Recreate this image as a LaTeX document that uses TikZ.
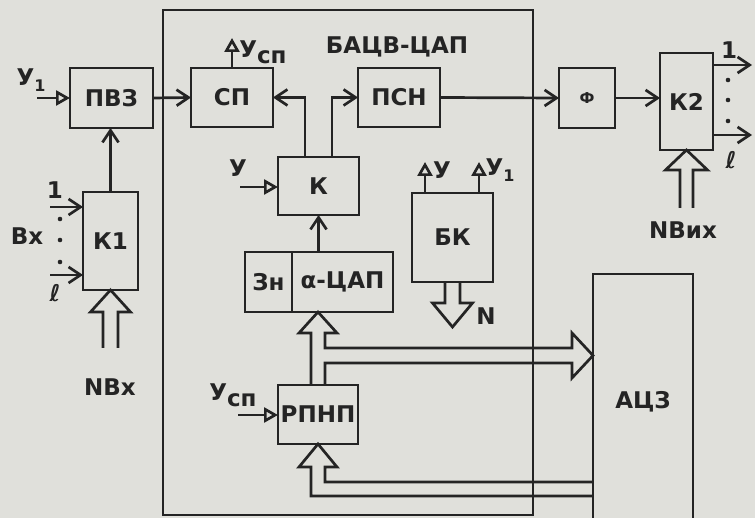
\documentclass[tikz,border=0pt]{standalone}
\usepackage{fontspec}
\setmainfont{DejaVu Sans}
\usetikzlibrary{arrows.meta,positioning,calc}
\definecolor{paper}{RGB}{224,224,219}
\definecolor{ink}{RGB}{36,36,36}
\newcommand\lowsub[1]{\raisebox{-0.45ex}{#1}}
\newcommand\smallsub[1]{\raisebox{-0.5ex}{\fontsize{16}{16}\selectfont #1}}

\begin{document}
\begin{tikzpicture}[
      x=1pt, y=-1pt, color=ink, line width=2.7pt,
      font=\fontsize{23}{27}\selectfont\bfseries,
      box/.style={draw, inner sep=0pt, outer sep=0pt, align=center},
      lbl/.style={inner sep=0pt},
      arr/.style={-{Straight Barb[length=12pt, width=16pt]}},
      inp/.style={-{Triangle[open, length=14pt, width=15pt]}},
      bus/.style={line join=miter},
    ]
    % Paper
    \useasboundingbox (0,0) rectangle (755,518);
    \fill[paper] (0,0) rectangle (755,518);
    \clip (0,0) rectangle (755,518);

    % БАЦВ-ЦАП frame
    \node[box, minimum width=370pt, minimum height=505pt] (bacv) at (348,262.5) {};
    \node[lbl] (bacvname) at (397,47) {БАЦВ-ЦАП};

    % Input side
    \node[box, minimum width=83pt, minimum height=60pt] (pvz) at (111.5,98) {ПВЗ};
    \node[box, minimum width=55pt, minimum height=98pt] (k1)  at (110.5,241) {К1};

    % Inside the frame
    \node[box, minimum width=82pt, minimum height=59pt] (sp)   at (232,97.5)  {СП};
    \node[box, minimum width=82pt, minimum height=59pt] (psn)  at (399,97.5)  {ПСН};
    \node[box, minimum width=81pt, minimum height=58pt] (k)    at (318.5,186) {К};
    \node[box, minimum width=47pt, minimum height=60pt] (zn)   at (268.5,282) {Зн};
    \node[box, minimum width=101pt, minimum height=60pt, right=0pt of zn] (dac) {α-ЦАП};
    \node[box, minimum width=81pt, minimum height=89pt] (bk)   at (452.5,237.5) {БК};
    \node[box, minimum width=80pt, minimum height=59pt] (rpnp) at (318,414.5) {РПНП};

    % Output side
    \node[box, minimum width=56pt, minimum height=60pt] (f)   at (587,98) {\fontsize{15}{15}\selectfont Ф};
    \node[box, minimum width=53pt, minimum height=97pt] (k2)  at (686.5,101.5) {К2};
    \node[box, minimum width=100pt, minimum height=256pt] (adc) at (643,402) {АЦЗ};

    % Signal path
    \draw[arr] (pvz.east) -- (sp.west);
    \draw[arr] (k1.north) -- (k1.north |- pvz.south);
    \draw[arr] ($(k.north)+(-13.5,0)$) |- (sp.east);
    \draw[arr] ($(k.north)+(13.5,0)$) |- (psn.west);
    \draw[arr] (dac.north -| k.south) -- (k.south);
    \draw[arr] (psn.east) -- (f.west);
    \draw[arr] (f.east) -- (f.east -| k2.west);

    % Control inputs
    \coordinate (y1in) at (37,98);
    \draw[inp] (y1in) -- (pvz.west);
    \node[lbl] (y1) at (31,80) {У\smallsub{1}};
    \coordinate (yin) at (240,187);
    \draw[inp] (yin) -- (yin -| k.west);
    \node[lbl] (y) at (238,168) {У};
    \coordinate (yspin) at (238,415);
    \draw[inp] (yspin) -- (yspin -| rpnp.west);
    \node[lbl] (ysp) at (233,395) {У\lowsub{сп}};

    % Δ outputs
    \draw[inp] (sp.north) -- ++(0,-30);
    \node[lbl, anchor=west] (dysp) at (238,52) {У\lowsub{сп}};
    \draw[inp] ($(bk.north)+(-27.5,0)$) -- ++(0,-31);
    \node[lbl] (dy) at (442,170) {У};
    \draw[inp] ($(bk.north)+(26.5,0)$) -- ++(0,-31);
    \node[lbl] (dy1) at (500,170) {У\smallsub{1}};

    % K1 inputs
    \coordinate (x1in) at (50,207);
    \coordinate (xlin) at (50,275);
    \draw[arr] (x1in) -- (x1in -| k1.west);
    \draw[arr] (xlin) -- (xlin -| k1.west);
    \node[lbl] (x1) at (55,190) {1};
    \node[lbl] (xl) at (55,293) {ℓ};
    \node[lbl] (vx) at (27,236) {Вх};
    \foreach \yy in {219,240,262} \fill (60,\yy) circle (2.3pt);

    % K2 outputs
    \coordinate (out1) at (752,65);
    \coordinate (outl) at (752,135);
    \draw[arr] (out1 -| k2.east) -- (out1);
    \draw[arr] (outl -| k2.east) -- (outl);
    \node[lbl] (o1) at (729,50) {1};
    \node[lbl] (ol) at (731,160) {ℓ};
    \foreach \yy in {80,100,121} \fill (728,\yy) circle (2.3pt);

    % Buses
    \draw[bus] ($(k1.south)+(-7.5,58)$) -- ++(0,-36) -- ++(-12.5,0) -- (k1.south)
      -- ++(20,22) -- ++(-12.5,0) -- ++(0,36);
    \node[lbl] (nvx) at (110,387) {NВх};
    \draw[bus] ($(k2.south)+(-6.5,58)$) -- ++(0,-38) -- ++(-14.5,0) -- (k2.south)
      -- ++(21,20) -- ++(-14.5,0) -- ++(0,38);
    \node[lbl] (nvyh) at (683,230) {NВих};
    \draw[bus] ($(bk.south)+(-7.5,0)$) -- ++(0,21) -- ++(-12.5,0) -- ++(20,24)
      -- ++(20,-24) -- ++(-12.5,0) -- ++(0,-21);
    \node[lbl] (n) at (486,316) {N};
    \draw[bus] ($(rpnp.north)+(-7,0)$) -- ++(0,-52) -- ++(-12,0) -- (rpnp.north |- dac.south)
      -- ++(19,21) -- ++(-12,0) -- ++(0,15) -- ++(247,0) -- ++(0,-15)
      -- ($(adc.north west)+(0,81.5)$) -- ++(-21,22.5) -- ++(0,-15) -- ++(-247,0)
      -- ($(rpnp.north)+(7,0)$);
    \draw[bus] ($(adc.west)+(0,80)$) -- ++(-268,0) -- ++(0,-15) -- ++(12,0) -- (rpnp.south)
      -- ++(-19,23) -- ++(12,0) -- ++(0,29) -- ($(adc.west)+(0,94)$);
  \end{tikzpicture}
\end{document}
